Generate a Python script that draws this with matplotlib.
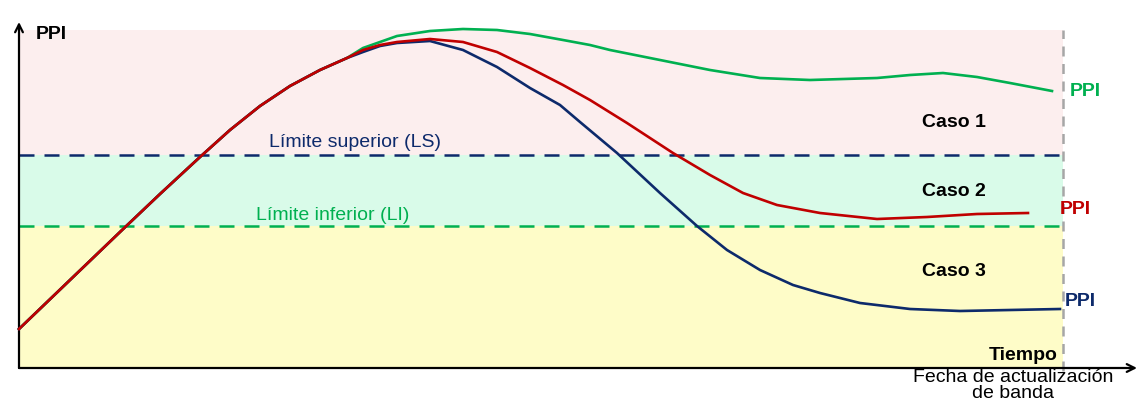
import matplotlib.pyplot as plt

plt.rcParams['font.family'] = ['Liberation Sans', 'DejaVu Sans']

# tiempo (unidades arbitrarias) y PPI
t_comun = [0, 51, 101, 141, 181, 211, 241, 271, 301, 328]
ppi_comun = [39, 88, 136, 174, 211, 238, 262, 282, 298, 310]

t_verde = t_comun + [344, 361, 378, 411, 444, 478, 511, 544, 571, 591, 641, 691, 741, 791, 858, 891, 924, 958, 991, 1033]
ppi_verde = ppi_comun + [320, 326, 332, 337, 339, 338, 334, 328, 323, 318, 308, 298, 290, 288, 290, 293, 295, 291, 285, 277]

t_rojo = t_comun + [344, 361, 378, 411, 444, 478, 511, 544, 571, 608, 654, 691, 724, 758, 801, 858, 908, 958, 1009]
ppi_rojo = ppi_comun + [318, 323, 326, 329, 326, 316, 300, 283, 268, 245, 215, 193, 175, 163, 155, 149, 151, 154, 155]

t_azul = t_comun + [344, 361, 378, 411, 444, 478, 511, 541, 561, 598, 641, 678, 708, 741, 774, 801, 841, 891, 941, 991, 1041]
ppi_azul = ppi_comun + [316, 322, 325, 327, 318, 301, 280, 263, 246, 215, 175, 142, 118, 98, 83, 75, 65, 59, 57, 58, 59]

LS = 213
LI = 142
t_max = 1044
ppi_max = 338

c_verde = '#00B050'
c_rojo = '#C00000'
c_azul = '#0D2A6B'

fig = plt.figure(figsize=(11.37, 4.03), dpi=100)
ax = fig.add_axes([19/1137, 35/403, 1044/1137, 338/403])
ax.set_xlim(0, t_max)
ax.set_ylim(0, ppi_max)
ax.axis('off')

# bandas
ax.axhspan(LS, ppi_max, color='#FCEEEE', lw=0, zorder=0)
ax.axhspan(LI, LS, color='#D9FBE9', lw=0, zorder=0)
ax.axhspan(0, LI, color='#FEFCC8', lw=0, zorder=0)

ax.axhline(LS, color=c_azul, lw=1.8, dashes=(6, 4), zorder=1)
ax.axhline(LI, color=c_verde, lw=1.8, dashes=(6, 4), zorder=1)
ax.plot([t_max, t_max], [-3, ppi_max], color='#A6A6A6', lw=1.8, dashes=(4, 3), clip_on=False, zorder=1)

ax.plot(t_verde, ppi_verde, color=c_verde, lw=1.9, zorder=3, clip_on=False, solid_joinstyle='round')
ax.plot(t_azul, ppi_azul, color=c_azul, lw=1.9, zorder=4, clip_on=False, solid_joinstyle='round')
ax.plot(t_rojo, ppi_rojo, color=c_rojo, lw=1.9, zorder=5, clip_on=False, solid_joinstyle='round')

# ejes con flecha
ax.annotate('', xy=(0, 346), xytext=(0, 0), annotation_clip=False,
            arrowprops=dict(arrowstyle='->', color='black', lw=1.6, shrinkA=0, shrinkB=0, mutation_scale=14))
ax.annotate('', xy=(1118, 0), xytext=(0, 0), annotation_clip=False,
            arrowprops=dict(arrowstyle='->', color='black', lw=1.6, shrinkA=0, shrinkB=0, mutation_scale=14))

ax.text(17, 333, 'PPI', fontsize=14, fontweight='bold', va='center', ha='left', clip_on=False)
ax.text(336, 225, 'Límite superior (LS)', fontsize=14, color=c_azul, ha='center', va='center')
ax.text(314, 152, 'Límite inferior (LI)', fontsize=14, color=c_verde, ha='center', va='center')
ax.text(935, 245, 'Caso 1', fontsize=14, fontweight='bold', ha='center', va='center')
ax.text(935, 176, 'Caso 2', fontsize=14, fontweight='bold', ha='center', va='center')
ax.text(935, 97, 'Caso 3', fontsize=14, fontweight='bold', ha='center', va='center')
ax.text(1051, 276, 'PPI', fontsize=14, fontweight='bold', color=c_verde, ha='left', va='center', clip_on=False)
ax.text(1041, 158, 'PPI', fontsize=14, fontweight='bold', color=c_rojo, ha='left', va='center', clip_on=False)
ax.text(1046, 66, 'PPI', fontsize=14, fontweight='bold', color=c_azul, ha='left', va='center', clip_on=False)
ax.text(1039, 13, 'Tiempo', fontsize=14, fontweight='bold', ha='right', va='center')
ax.text(994, -1, 'Fecha de actualización\nde banda', fontsize=14, ha='center', va='top',
        linespacing=0.95, clip_on=False)

fig.savefig('out.png', dpi=100)
